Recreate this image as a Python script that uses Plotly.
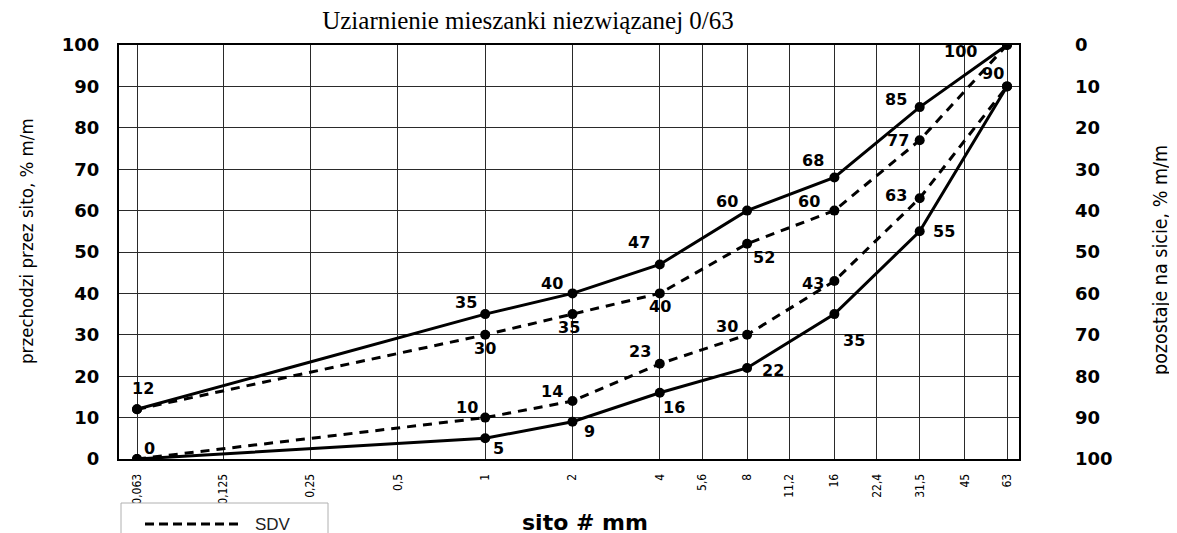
import math
import plotly.graph_objects as go

# ---- data ----
sieves = [0.063, 1, 2, 4, 8, 16, 31.5, 63]
upper_limit = [12, 35, 40, 47, 60, 68, 85, 100]
lower_limit = [0, 5, 9, 16, 22, 35, 55, 90]
sdv_upper = [12, 30, 35, 40, 52, 60, 77, 100]
sdv_lower = [0, 10, 14, 23, 30, 43, 63, 90]

tick_vals = [0.063, 0.125, 0.25, 0.5, 1, 2, 4, 5.6, 8, 11.2, 16, 22.4, 31.5, 45, 63]
tick_text = ["0,063", "0,125", "0,25", "0,5", "1", "2", "4", "5,6", "8", "11,2", "16", "22,4", "31,5", "45", "63"]
y_ticks = [0, 10, 20, 30, 40, 50, 60, 70, 80, 90, 100]

title_text = "Uziarnienie mieszanki niezwiązanej 0/63"
left_title = "przechodzi przez sito, % m/m"
right_title = "pozostaje na sicie, % m/m"
x_title = "sito # mm"
legend_label = "SDV"

# ---- label offsets (px: dx right, dy down); None = no label ----
off_upper = [(6, -21), (-19, -12), (-20, -10), (-21, -22), (-20, -9), (-21, -17), (-24, -8), (-47, 6)]
off_lower = [(12, -11), (13, 10), (17, 10), (14, 15), (26, 3), (20, 26), (24, 0), (-14, -13)]
off_sdv_up = [None, (0, 14), (-3, 13), (0, 13), (17, 14), (-25, -9), (-22, 0), None]
off_sdv_lo = [None, (-18, -10), (-20, -10), (-20, -12), (-20, -8), (-21, 3), (-24, -3), None]

# ---- geometry (screen pixels of the target; page body has an 8px margin) ----
PAGE = 8
W, H = 1177, 533
L, R, T, B = 119, 1019, 45, 459
PW, PH = R - L, B - T


def px(xp):
    return (xp - L) / PW


def py(yp):
    return (B - yp) / PH


fig = go.Figure()

solid = dict(color="black", width=3)
dashed = dict(color="black", width=3, dash="9px,7px")
mk = dict(color="black", size=10)

fig.add_trace(go.Scatter(x=sieves, y=sdv_upper, mode="lines+markers", line=dashed, marker=mk, showlegend=False))
fig.add_trace(go.Scatter(x=sieves, y=sdv_lower, mode="lines+markers", line=dashed, marker=mk, showlegend=False))
fig.add_trace(go.Scatter(x=sieves, y=upper_limit, mode="lines+markers", line=solid, marker=mk, showlegend=False))
fig.add_trace(go.Scatter(x=sieves, y=lower_limit, mode="lines+markers", line=solid, marker=mk, showlegend=False))
# invisible trace to activate the right-hand (retained) axis
fig.add_trace(go.Scatter(x=sieves, y=[100 - v for v in upper_limit], yaxis="y2", mode="lines",
                         line=dict(width=0), opacity=0, showlegend=False, hoverinfo="skip"))

lab_font = dict(family="DejaVu Sans", size=16, color="black", weight="bold")
annotations = []
for vals, offs in [(upper_limit, off_upper), (lower_limit, off_lower), (sdv_upper, off_sdv_up), (sdv_lower, off_sdv_lo)]:
    for xv, yv, o in zip(sieves, vals, offs):
        if o is None:
            continue
        annotations.append(dict(x=math.log10(xv), y=yv, xref="x", yref="y", text=str(yv),
                                showarrow=False, xshift=o[0], yshift=-o[1], font=lab_font,
                                xanchor="center", yanchor="middle"))

NARROW = "DejaVu Sans Condensed, Liberation Sans Narrow, Arial Narrow, DejaVu Sans, sans-serif"
annotations += [
    dict(x=px(26), y=py(241), xref="paper", yref="paper", text=left_title, textangle=-90, showarrow=False,
         font=dict(family=NARROW, size=18.5, color="black"), xanchor="center", yanchor="middle"),
    dict(x=px(1160), y=py(260), xref="paper", yref="paper", text=right_title, textangle=-90, showarrow=False,
         font=dict(family=NARROW, size=19.5, color="black"), xanchor="center", yanchor="middle"),
    dict(x=px(585), y=py(522), xref="paper", yref="paper", text=x_title, showarrow=False,
         font=dict(family="DejaVu Sans", size=22, color="black", weight="bold"),
         xanchor="center", yanchor="middle"),
    dict(x=px(253), y=py(524), xref="paper", yref="paper", text=legend_label, showarrow=False,
         font=dict(family="Liberation Sans, Arial, sans-serif", size=17, color="#222"),
         xanchor="left", yanchor="middle"),
]

shapes = [
    dict(type="rect", xref="paper", yref="paper", x0=px(121), x1=px(328), y0=py(503), y1=py(560),
         line=dict(color="#b0b0b0", width=1), fillcolor="white", layer="above"),
    dict(type="line", xref="paper", yref="paper", x0=px(145), x1=px(243), y0=py(524), y1=py(524),
         line=dict(color="black", width=3, dash="9px,5px")),
]

xmin = math.log10(tick_vals[0]) - (137 - L) / 290.0
xmax = math.log10(tick_vals[-1]) + (R - 1007) / 290.0

tick_font_num = dict(family="DejaVu Sans", size=18, color="black", weight="bold")

fig.update_layout(
    width=W, height=H,
    margin=dict(l=L - PAGE, r=W - (R - PAGE), t=T - PAGE, b=H - (B - PAGE)),
    paper_bgcolor="white", plot_bgcolor="white",
    title=dict(text=title_text, x=(528 - PAGE) / W, xanchor="center", y=1 - (20 - PAGE) / H, yanchor="middle",
               font=dict(family="Liberation Serif, Times New Roman, serif", size=25, color="black")),
    xaxis=dict(type="log", range=[xmin, xmax], tickvals=tick_vals, ticktext=tick_text, tickangle=-90,
               tickfont=dict(family=NARROW, size=12, color="black"),
               showgrid=True, gridcolor="#2a2a2a", gridwidth=1, showline=True, linecolor="black", linewidth=2,
               mirror=True, ticks="", ticklabelstandoff=8, zeroline=False),
    yaxis=dict(range=[0, 100], tickvals=y_ticks, tickfont=tick_font_num, showgrid=True, gridcolor="#2a2a2a",
               gridwidth=1, showline=True, linecolor="black", linewidth=2, mirror=True, ticks="",
               ticklabelstandoff=14, zeroline=False),
    yaxis2=dict(range=[100, 0], tickvals=y_ticks, tickfont=tick_font_num, overlaying="y", side="right",
                showgrid=False, showline=False, ticks="", ticklabelstandoff=55, zeroline=False),
    annotations=annotations,
    shapes=shapes,
    showlegend=False,
)

fig.write_html("out.html")
